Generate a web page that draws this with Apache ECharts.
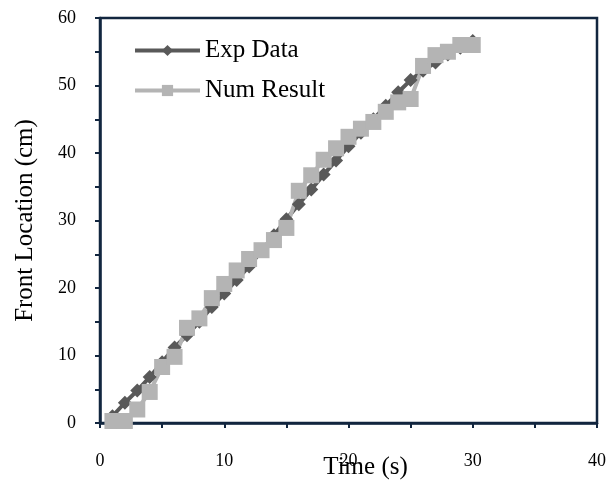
<!DOCTYPE html>
<html>
<head>
<meta charset="utf-8">
<script src="https://cdn.jsdelivr.net/npm/echarts@6/dist/echarts.min.js"></script>
<style>
html,body{margin:0;padding:0;background:#fff;}
#chart{width:612px;height:482px;}
</style>
</head>
<body>
<div id="chart"></div>
<script>
// time (s)
var timeVals = [1,2,3,4,5,6,7,8,9,10,11,12,13,14,15,16,17,18,19,20,21,22,23,24,25,26,27,28,29,30];
// front location (cm)
var expData = [1,3,4.8,6.8,9,11.2,13,15,17.2,19.2,21.2,23.2,25.5,27.8,30.2,32.4,34.6,36.8,38.9,41,43,45,47,49,50.8,52.2,53.4,54.6,55.6,56.6];
var numResult = [0.3,0.3,2,4.6,8.3,9.8,14.1,15.5,18.5,20.6,22.6,24.3,25.6,27.1,28.9,34.4,36.7,39,40.7,42.4,43.6,44.6,46.1,47.5,48,52.9,54.5,55,56,56];

function pairs(ys){
    var out = [];
    for(var i=0;i<timeVals.length;i++){
        out.push([timeVals[i], ys[i]]);
    }
    return out;
}

var axisColor = '#12263f';
var font = '"Liberation Serif", "Times New Roman", serif';

var chart = echarts.init(document.getElementById('chart'));
var option = {
    backgroundColor: '#fff',
    animation: false,
    textStyle: { fontFamily: font },
    grid: {
        left: 100,
        right: 15,
        top: 18,
        bottom: 59,
        show: true,
        borderColor: axisColor,
        borderWidth: 2.5,
        containLabel: false,
        outerBoundsMode: 'none'
    },
    legend: {
        orient: 'vertical',
        left: 128,
        top: 33,
        itemWidth: 65,
        itemHeight: 14,
        itemGap: 15,
        lineStyle: { width: 4 },
        textStyle: { fontFamily: font, fontSize: 25, color: '#000' },
        data: ['Exp Data', 'Num Result']
    },
    xAxis: {
        type: 'value',
        min: 0,
        max: 40,
        interval: 10,
        name: 'Time (s)',
        nameLocation: 'middle',
        nameGap: 32,
        nameMoveOverlap: false,
        nameTextStyle: { fontFamily: font, fontSize: 25, color: '#000', padding: [0, 0, 0, 34] },
        axisLine: { show: true, lineStyle: { color: axisColor, width: 2.5 } },
        axisTick: { show: true, inside: false, length: 5, lineStyle: { color: axisColor, width: 2 } },
        minorTick: { show: true, splitNumber: 2, length: 5, lineStyle: { color: axisColor, width: 2 } },
        axisLabel: { fontFamily: font, fontSize: 18, color: '#000', margin: 29 },
        splitLine: { show: false }
    },
    yAxis: {
        type: 'value',
        min: 0,
        max: 60,
        interval: 10,
        name: 'Front Location (cm)',
        nameLocation: 'middle',
        nameGap: 62,
        nameMoveOverlap: false,
        nameTextStyle: { fontFamily: font, fontSize: 25, color: '#000' },
        axisLine: { show: true, lineStyle: { color: axisColor, width: 2.5 } },
        axisTick: { show: true, inside: false, length: 5, lineStyle: { color: axisColor, width: 2 } },
        minorTick: { show: true, splitNumber: 2, length: 5, lineStyle: { color: axisColor, width: 2 } },
        axisLabel: { fontFamily: font, fontSize: 18, color: '#000', margin: 24 },
        splitLine: { show: false }
    },
    series: [
        {
            name: 'Exp Data',
            type: 'line',
            data: pairs(expData),
            symbol: 'diamond',
            symbolSize: 14,
            lineStyle: { color: '#595959', width: 4 },
            itemStyle: { color: '#595959' }
        },
        {
            name: 'Num Result',
            type: 'line',
            data: pairs(numResult),
            symbol: 'rect',
            symbolSize: 16,
            lineStyle: { color: '#b4b4b4', width: 4 },
            itemStyle: { color: '#b4b4b4' }
        }
    ]
};
chart.setOption(option);
</script>
</body>
</html>
